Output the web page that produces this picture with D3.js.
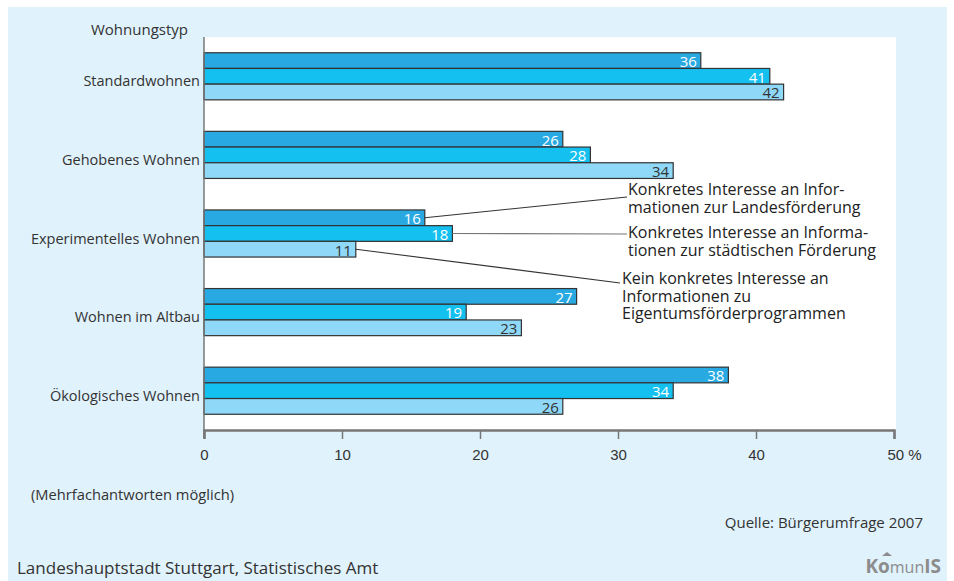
<!DOCTYPE html>
<html>
<head>
<meta charset="utf-8">
<script src="https://cdn.jsdelivr.net/npm/d3@7"></script>
<style>
  body { margin: 0; background: #fff; }
  svg { display: block; font-family: "Open Sans", "Noto Sans", sans-serif; }
</style>
</head>
<body>
<svg id="chart" width="954" height="581"></svg>
<script>
// categories (top to bottom)
var categories = ["Standardwohnen", "Gehobenes Wohnen", "Experimentelles Wohnen", "Wohnen im Altbau", "Ökologisches Wohnen"];

// series values in %
var landes = [36, 26, 16, 27, 38];
var staedtisch = [41, 28, 18, 19, 34];
var keinInteresse = [42, 34, 11, 23, 26];

var seriesNames = [
  ["Konkretes Interesse an Infor-", "mationen zur Landesförderung"],
  ["Konkretes Interesse an Informa-", "tionen zur städtischen Förderung"],
  ["Kein konkretes Interesse an", "Informationen zu", "Eigentumsförderprogrammen"]
];

var xTicks = [0, 10, 20, 30, 40, 50];

var colors = ["#29a9e1", "#14c0f0", "#8fd8f7"];
var labelColors = ["#fff", "#fff", "#333"];

var svg = d3.select("#chart");

// background
svg.append("rect").attr("x", 8).attr("y", 7).attr("width", 939).attr("height", 574).attr("fill", "#e0f2fc");

var margin = { left: 204, right: 896, top: 37, bottom: 430 };
svg.append("rect")
  .attr("x", margin.left).attr("y", margin.top)
  .attr("width", margin.right - margin.left).attr("height", margin.bottom - margin.top)
  .attr("fill", "#fff");

var x = d3.scaleLinear().domain([0, 50]).range([margin.left, 894]);
var y = d3.scaleBand().domain(categories).range([margin.top, margin.bottom]);

var barH = 15.7;
var series = [landes, staedtisch, keinInteresse];

// bars
series.forEach(function (vals, s) {
  var g = svg.append("g");
  g.selectAll("rect")
    .data(vals)
    .enter()
    .append("rect")
    .attr("x", x(0))
    .attr("y", function (d, i) { return y(categories[i]) + y.bandwidth() / 2 - 1.5 * barH + s * barH; })
    .attr("width", function (d) { return x(d) - x(0); })
    .attr("height", barH)
    .attr("fill", colors[s])
    .attr("stroke", "#333")
    .attr("stroke-width", 1.2);
  g.selectAll("text")
    .data(vals)
    .enter()
    .append("text")
    .attr("x", function (d) { return x(d) - 4; })
    .attr("y", function (d, i) { return y(categories[i]) + y.bandwidth() / 2 - 1.5 * barH + s * barH + barH - 1.5; })
    .attr("text-anchor", "end")
    .attr("font-size", 15)
    .attr("fill", labelColors[s])
    .text(function (d) { return d; });
});

// y axis
svg.append("line").attr("x1", x(0)).attr("x2", x(0)).attr("y1", margin.top).attr("y2", margin.bottom + 8)
  .attr("stroke", "#777").attr("stroke-width", 1.5);

svg.append("g").selectAll("text")
  .data(categories)
  .enter()
  .append("text")
  .attr("x", x(0) - 4)
  .attr("y", function (d) { return y(d) + y.bandwidth() / 2 + 10; })
  .attr("text-anchor", "end")
  .attr("font-size", 14.5)
  .attr("fill", "#333")
  .text(function (d) { return d; });

svg.append("text").attr("x", 91).attr("y", 35).attr("font-size", 15).attr("fill", "#333").text("Wohnungstyp");

// x axis
var xAxis = svg.append("g").attr("transform", "translate(0," + margin.bottom + ")")
  .call(d3.axisBottom(x).tickValues(xTicks).tickSize(9).tickFormat(function (d) { return d === 50 ? "50 %" : d; }));
xAxis.select(".domain").attr("stroke", "#777").attr("stroke-width", 2.5);
xAxis.selectAll(".tick line").attr("stroke", "#777").attr("stroke-width", 1.5);
xAxis.selectAll(".tick text").attr("font-size", 15).attr("fill", "#333").attr("font-family", "inherit").attr("dy", "1.2em");
xAxis.selectAll(".tick").filter(function (d) { return d === 50; }).select("text").attr("dx", 10);

// annotations for the Experimentelles Wohnen group
var annoCat = categories[2];
var annoTextPos = [[628, 195], [628, 238], [622, 284]];
var annoLineEnd = [[627, 197], [627, 234], [620, 283]];
series.forEach(function (vals, s) {
  var by = y(annoCat) + y.bandwidth() / 2 - 1.5 * barH + s * barH + barH / 2;
  svg.append("line")
    .attr("x1", x(vals[2])).attr("y1", by)
    .attr("x2", annoLineEnd[s][0]).attr("y2", annoLineEnd[s][1])
    .attr("stroke", s === 1 ? "#777" : "#333").attr("stroke-width", 1.1);
  seriesNames[s].forEach(function (line, k) {
    svg.append("text")
      .attr("x", annoTextPos[s][0]).attr("y", annoTextPos[s][1] + k * 17.5)
      .attr("font-size", 16).attr("fill", "#222")
      .text(line);
  });
});

// notes & footer
svg.append("text").attr("x", 31).attr("y", 500).attr("font-size", 14.7).attr("fill", "#333").text("(Mehrfachantworten möglich)");
svg.append("text").attr("x", 923).attr("y", 528).attr("text-anchor", "end").attr("font-size", 15).attr("fill", "#333").text("Quelle: Bürgerumfrage 2007");
svg.append("text").attr("x", 17).attr("y", 574).attr("font-size", 17).attr("fill", "#333").text("Landeshauptstadt Stuttgart, Statistisches Amt");

// logo
var logo = svg.append("text").attr("x", 941).attr("y", 573).attr("text-anchor", "end")
  .attr("font-size", 19).attr("font-weight", "bold").attr("fill", "#8c8c8c");
logo.append("tspan").text("Ko");
logo.append("tspan").attr("font-weight", "normal").attr("font-size", 16).text("mun");
logo.append("tspan").text("IS");
svg.append("path").attr("d", "M882,556 L887,552 L892,556 Z").attr("fill", "#8c8c8c");
</script>
</body>
</html>
